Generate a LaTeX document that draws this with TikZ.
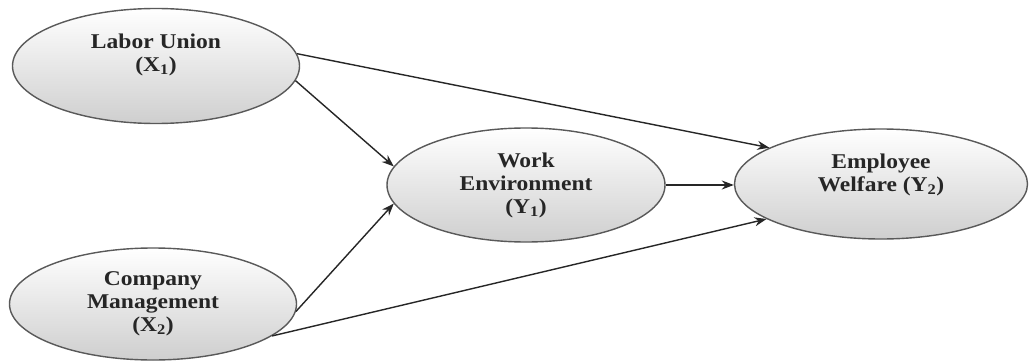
\documentclass[tikz,border=0pt]{standalone}
\usepackage{fontspec}
\setmainfont{Liberation Serif}[FakeStretch=1.12]
\usetikzlibrary{shapes.geometric,arrows.meta}
\tikzset{
  latent/.style={ellipse, draw=black!65, line width=1.4pt, inner sep=0pt,
    top color=white, middle color=black!4, bottom color=black!19, shading angle=0},
  lbl/.style={align=center, font=\fontsize{21}{23}\selectfont\bfseries, text=black!85, inner sep=0pt},
  path/.style={draw=black!85, line width=1.4pt, -{Stealth[length=12pt,width=9pt]}}
}
\newcommand{\sbs}[1]{\textsubscript{#1}}
\begin{document}
\begin{tikzpicture}[x=1pt,y=-1pt]
\useasboundingbox[fill=white] (0,0) rectangle (1033,361);
\node[latent, minimum width=287pt, minimum height=115pt] (lu) at (156,66) {};
\node[latent, minimum width=287pt, minimum height=112pt] (cm) at (153,304) {};
\node[latent, minimum width=278pt, minimum height=114pt] (we) at (526,185) {};
\node[latent, minimum width=293pt, minimum height=110pt] (ew) at (881,184) {};
\node[lbl] (lut) at ([yshift=11pt]lu.center) {Labor Union\\(X\sbs{1})};
\node[lbl] (cmt) at (cm.center) {Company\\Management\\(X\sbs{2})};
\node[lbl] (wet) at (we.center) {Work\\Environment\\(Y\sbs{1})};
\node[lbl] (ewt) at ([yshift=9pt]ew.center) {Employee\\Welfare (Y\sbs{2})};
\draw[path] (lu.5) -- (ew.162);
\draw[path] (lu.-6) -- (we.172);
\draw[path] (cm.-3) -- (we.188);
\draw[path] (cm.-15) -- (ew.197);
\draw[path] (we.east) -- (we.east -| ew.west);
\end{tikzpicture}
\end{document}
